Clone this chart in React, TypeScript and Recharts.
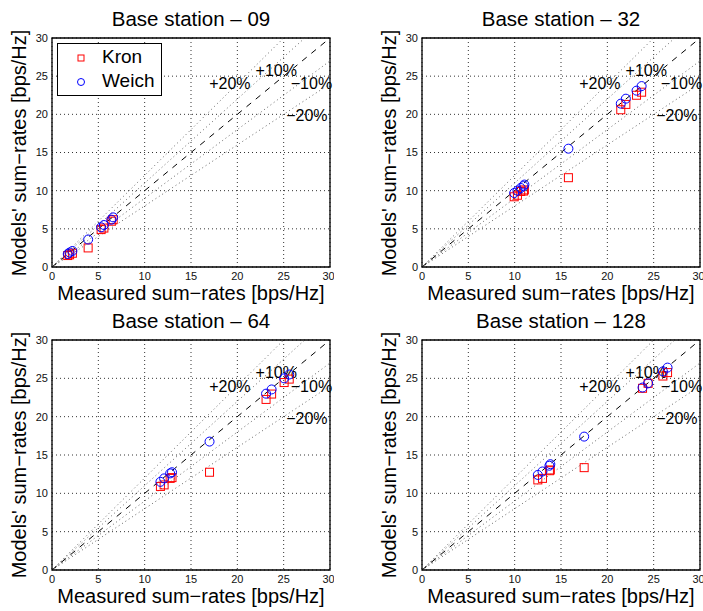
import * as React from "react"
import {
  ScatterChart,
  Scatter,
  XAxis,
  YAxis,
  CartesianGrid,
  ReferenceLine,
  ReferenceArea,
  ReferenceDot,
} from "recharts"

// measured sum-rate per location, and what each model predicts for it
const stationNames = ["09", "32", "64", "128"]

const bs09Measured = [1.7, 1.9, 2.2, 3.9, 5.3, 5.6, 6.4, 6.6]
const bs09Kron = [1.5, 1.6, 1.8, 2.5, 4.9, 5.1, 6.0, 6.2]
const bs09Weich = [1.7, 1.9, 2.1, 3.6, 5.2, 5.5, 6.2, 6.5]

const bs32Measured = [9.95, 10.3, 10.65, 10.95, 11.05, 15.8, 21.45, 22.0, 23.15, 23.7]
const bs32Kron = [9.2, 9.4, 9.9, 9.95, 10.1, 11.7, 20.6, 21.3, 22.5, 22.9]
const bs32Weich = [9.7, 10.0, 10.35, 10.6, 10.8, 15.5, 21.4, 22.05, 23.1, 23.7]

const bs64Measured = [11.7, 12.1, 12.75, 12.95, 17.0, 23.1, 23.7, 25.05, 25.6]
const bs64Kron = [10.9, 11.1, 11.95, 12.05, 12.75, 22.25, 22.95, 24.45, 24.9]
const bs64Weich = [11.5, 11.95, 12.6, 12.75, 16.75, 23.0, 23.55, 25.0, 25.5]

const bs128Measured = [12.5, 13.0, 13.75, 13.85, 17.5, 23.8, 24.4, 26.0, 26.5]
const bs128Kron = [11.75, 11.95, 12.95, 13.05, 13.35, 23.7, 24.35, 25.3, 25.75]
const bs128Weich = [12.4, 12.85, 13.6, 13.8, 17.4, 23.8, 24.35, 25.9, 26.4]

const axisTicks = [0, 5, 10, 15, 20, 25, 30]

// +/- error bands: end point of each line starting at the origin
const bandEnds = [
  { x: 25, y: 30 },
  { x: 27.27, y: 30 },
  { x: 30, y: 27 },
  { x: 30, y: 24 },
]
const bandLabels = [
  { text: "+20%", x: 19.2, y: 24.0 },
  { text: "+10%", x: 24.2, y: 25.8 },
  { text: "\u221210%", x: 28.0, y: 24.0 },
  { text: "\u221220%", x: 27.5, y: 19.8 },
]

const FONT = '"Liberation Sans", Arial, Helvetica, sans-serif'

const toPoints = (xs: number[], ys: number[]) => xs.map((x, i) => ({ x, y: ys[i] }))

const KronMark = (p: any) => (
  <rect x={p.cx - 4} y={p.cy - 4} width={8} height={8} fill="none" stroke="#ff0000" strokeWidth={1} />
)
const WeichMark = (p: any) => (
  <circle cx={p.cx} cy={p.cy} r={4.5} fill="none" stroke="#0000ff" strokeWidth={1} />
)

interface PanelProps {
  plotLeft: number
  plotTop: number
  plotH: number
  title: string
  measured: number[]
  kron: number[]
  weich: number[]
}

const PLOT_W = 278
const Y_AXIS_W = 52
const X_AXIS_H = 33

function Panel({ plotLeft, plotTop, plotH, title, measured, kron, weich }: PanelProps) {
  const chartW = Y_AXIS_W + PLOT_W + 4
  const chartH = plotTop % 300 + plotH + X_AXIS_H
  const chartTop = plotTop - (plotTop % 300)
  const cx = plotLeft + PLOT_W / 2
  const cy = plotTop + plotH / 2
  return (
    <>
      <div style={{ position: "absolute", left: plotLeft - Y_AXIS_W, top: chartTop }}>
        <ScatterChart
          width={chartW}
          height={chartH}
          margin={{ top: plotTop % 300, right: 4, bottom: 0, left: 0 }}
        >
          <CartesianGrid stroke="#000" strokeDasharray="1 3" strokeOpacity={0.8} />
          <XAxis
            type="number"
            dataKey="x"
            domain={[0, 30]}
            ticks={axisTicks}
            height={X_AXIS_H}
            axisLine={false}
            tickLine={false}
            tickSize={3}
            tickMargin={2}
            tick={{ fontSize: 11, fill: "#111", fontFamily: FONT }}
            allowDataOverflow
          />
          <YAxis
            type="number"
            dataKey="y"
            domain={[0, 30]}
            ticks={axisTicks}
            width={Y_AXIS_W}
            axisLine={false}
            tickLine={false}
            tickSize={2}
            tickMargin={2}
            tick={{ fontSize: 11, fill: "#111", fontFamily: FONT }}
            allowDataOverflow
          />
          {bandEnds.map((e, i) => (
            <ReferenceLine
              key={i}
              segment={[{ x: 0, y: 0 }, e]}
              stroke="#666"
              strokeDasharray="1 3"
              strokeWidth={1}
            />
          ))}
          <ReferenceLine
            segment={[{ x: 0, y: 0 }, { x: 30, y: 30 }]}
            stroke="#000"
            strokeDasharray="6 6"
            strokeWidth={1}
          />
          <ReferenceArea x1={0} x2={30} y1={0} y2={30} fill="none" fillOpacity={0} stroke="#000" strokeWidth={1.3} />
          {bandLabels.map((l) => (
            <ReferenceDot
              key={l.text}
              x={l.x}
              y={l.y}
              r={0}
              shape={(p: any) => (
                <text
                  x={p.cx}
                  y={p.cy}
                  textAnchor="middle"
                  dominantBaseline="central"
                  fontSize={16}
                  fontFamily={FONT}
                  fill="#000"
                >
                  {l.text}
                </text>
              )}
            />
          ))}
          <Scatter name="Kron" data={toPoints(measured, kron)} shape={KronMark} isAnimationActive={false} />
          <Scatter name="Weich" data={toPoints(measured, weich)} shape={WeichMark} isAnimationActive={false} />
        </ScatterChart>
      </div>
      <div
        style={{
          position: "absolute",
          left: cx - 150,
          width: 300,
          top: plotTop - 32,
          textAlign: "center",
          fontSize: 20.5,
          lineHeight: "26px",
          fontFamily: FONT,
        }}
      >
        {title}
      </div>
      <div
        style={{
          position: "absolute",
          left: cx - 150,
          width: 300,
          top: plotTop + plotH + 14,
          textAlign: "center",
          fontSize: 20,
          lineHeight: "24px",
          fontFamily: FONT,
          whiteSpace: "nowrap",
        }}
      >
        Measured sum{"\u2212"}rates [bps/Hz]
      </div>
      <div
        style={{
          position: "absolute",
          left: plotLeft - 33 - 150,
          width: 300,
          top: cy - 12,
          textAlign: "center",
          fontSize: 20,
          lineHeight: "24px",
          fontFamily: FONT,
          whiteSpace: "nowrap",
          transform: "rotate(-90deg)",
        }}
      >
        Models' sum{"\u2212"}rates [bps/Hz]
      </div>
    </>
  )
}

function Legend() {
  return (
    <div
      style={{
        position: "absolute",
        left: 57,
        top: 43,
        width: 103,
        height: 51,
        border: "1.5px solid #000",
        background: "#fff",
        fontFamily: FONT,
        fontSize: 19,
      }}
    >
      <svg width={12} height={12} style={{ position: "absolute", left: 17, top: 8 }}>
        <rect x={3} y={3} width={6} height={6} fill="none" stroke="#ff0000" />
      </svg>
      <div style={{ position: "absolute", left: 44, top: 2, lineHeight: "22px" }}>Kron</div>
      <svg width={12} height={12} style={{ position: "absolute", left: 17, top: 32 }}>
        <circle cx={6} cy={6} r={3.5} fill="none" stroke="#0000ff" />
      </svg>
      <div style={{ position: "absolute", left: 44, top: 26, lineHeight: "22px" }}>Weich</div>
    </div>
  )
}

export default function App() {
  return (
    <div
      style={{
        position: "absolute",
        left: 0,
        top: 0,
        width: 703,
        height: 611,
        overflow: "hidden",
        background: "#fff",
      }}
    >
      <Panel
        plotLeft={52}
        plotTop={38}
        plotH={229}
        title={`Base station \u2013 ${stationNames[0]}`}
        measured={bs09Measured}
        kron={bs09Kron}
        weich={bs09Weich}
      />
      <Panel
        plotLeft={422}
        plotTop={38}
        plotH={229}
        title={`Base station \u2013 ${stationNames[1]}`}
        measured={bs32Measured}
        kron={bs32Kron}
        weich={bs32Weich}
      />
      <Panel
        plotLeft={52}
        plotTop={340}
        plotH={230}
        title={`Base station \u2013 ${stationNames[2]}`}
        measured={bs64Measured}
        kron={bs64Kron}
        weich={bs64Weich}
      />
      <Panel
        plotLeft={422}
        plotTop={340}
        plotH={230}
        title={`Base station \u2013 ${stationNames[3]}`}
        measured={bs128Measured}
        kron={bs128Kron}
        weich={bs128Weich}
      />
      <Legend />
    </div>
  )
}
